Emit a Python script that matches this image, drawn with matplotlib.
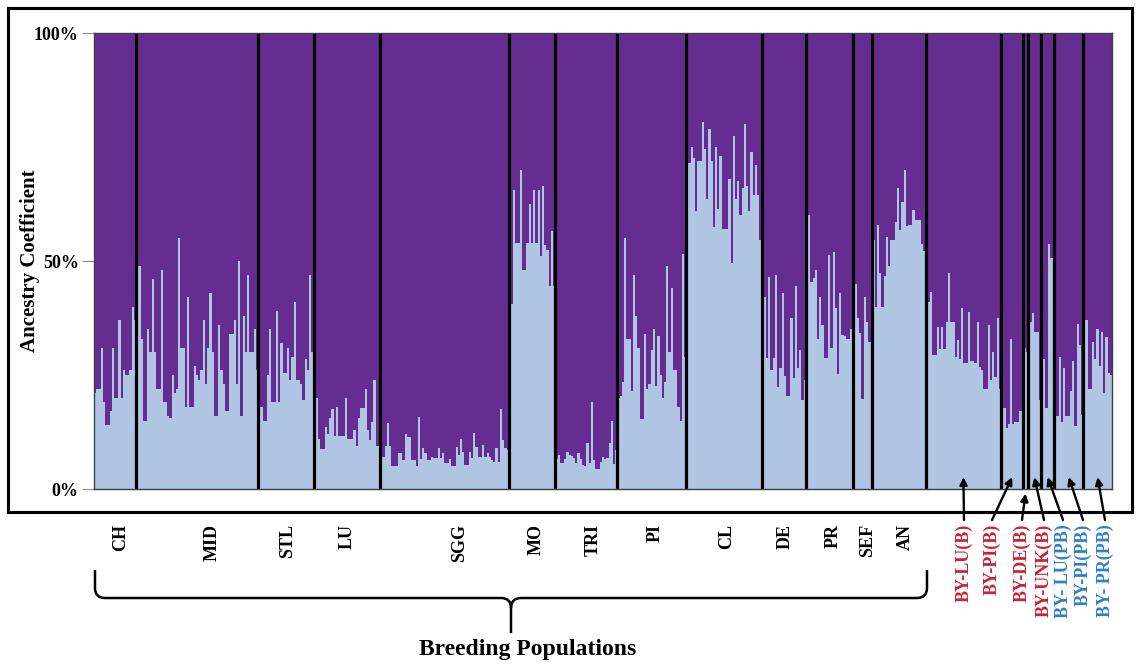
import matplotlib
matplotlib.use("Agg")
import matplotlib.pyplot as plt
from matplotlib.patches import Rectangle, PathPatch
from matplotlib.path import Path
import numpy as np

plt.rcParams['font.family'] = ['Liberation Serif', 'DejaVu Serif']
plt.rcParams['font.weight'] = 'bold'

W, H = 1136, 667
PURPLE = '#662d91'
LIGHT = '#b0c4e3'
RED = '#cc2233'
BLUE = '#2f80c8'

# light-cluster ancestry per individual, by population
ch = [0.21, 0.22, 0.22, 0.31, 0.19, 0.14, 0.14, 0.17, 0.31, 0.20, 0.20, 0.37, 0.20,
      0.26, 0.25, 0.25, 0.26, 0.40, 0.37]
mid = [0.33, 0.49, 0.33, 0.15, 0.15, 0.35, 0.30, 0.46, 0.30, 0.22, 0.22, 0.48, 0.19,
       0.19, 0.16, 0.155, 0.25, 0.21, 0.22, 0.55, 0.31, 0.31, 0.18, 0.42, 0.18, 0.18,
       0.27, 0.25, 0.24, 0.26, 0.37, 0.23, 0.31, 0.43, 0.30, 0.16, 0.16, 0.36, 0.26,
       0.23, 0.17, 0.17, 0.34, 0.34, 0.37, 0.23, 0.50, 0.16, 0.38, 0.30, 0.47, 0.30,
       0.30, 0.35, 0.26]
stl = [0.21, 0.18, 0.15, 0.15, 0.25, 0.35, 0.19, 0.19, 0.39, 0.19, 0.32, 0.255, 0.255,
       0.31, 0.24, 0.29, 0.41, 0.24, 0.24, 0.23, 0.195, 0.285, 0.26, 0.47, 0.30]
lu = [0.24, 0.20, 0.11, 0.087, 0.087, 0.135, 0.12, 0.155, 0.175, 0.116, 0.18, 0.116,
      0.116, 0.116, 0.20, 0.11, 0.11, 0.11, 0.13, 0.095, 0.155, 0.177, 0.177, 0.22,
      0.13, 0.107, 0.148, 0.24, 0.094, 0.094]
sgg = [0.07, 0.07, 0.094, 0.145, 0.094, 0.05, 0.05, 0.05, 0.08, 0.08, 0.064, 0.12,
       0.115, 0.115, 0.064, 0.064, 0.05, 0.157, 0.065, 0.09, 0.078, 0.064, 0.064, 0.07,
       0.067, 0.067, 0.089, 0.067, 0.08, 0.056, 0.056, 0.066, 0.05, 0.05, 0.092, 0.075,
       0.11, 0.082, 0.053, 0.053, 0.082, 0.067, 0.122, 0.093, 0.07, 0.07, 0.096, 0.07,
       0.078, 0.07, 0.064, 0.06, 0.089, 0.06, 0.175, 0.107, 0.089, 0.085]
mo = [0.45, 0.405, 0.655, 0.54, 0.54, 0.70, 0.48, 0.48, 0.54, 0.625, 0.54, 0.655, 0.54,
      0.655, 0.51, 0.665, 0.535, 0.525, 0.445, 0.565, 0.445]
tri = [0.065, 0.075, 0.056, 0.056, 0.065, 0.082, 0.075, 0.073, 0.068, 0.056, 0.078,
       0.065, 0.053, 0.05, 0.10, 0.056, 0.19, 0.064, 0.043, 0.043, 0.06, 0.07, 0.065,
       0.067, 0.10, 0.15, 0.055, 0.085]
pi = [0.20, 0.204, 0.235, 0.55, 0.33, 0.33, 0.215, 0.47, 0.38, 0.31, 0.153, 0.153, 0.34,
      0.22, 0.23, 0.305, 0.35, 0.226, 0.335, 0.25, 0.20, 0.235, 0.49, 0.30, 0.44, 0.26,
      0.26, 0.18, 0.15, 0.515, 0.29]
cl = [0.70, 0.715, 0.75, 0.725, 0.61, 0.72, 0.72, 0.805, 0.745, 0.635, 0.79, 0.72, 0.575,
      0.75, 0.615, 0.73, 0.57, 0.57, 0.57, 0.68, 0.495, 0.775, 0.635, 0.675, 0.60, 0.66,
      0.80, 0.665, 0.61, 0.74, 0.645, 0.71, 0.645, 0.545]
de = [0.257, 0.42, 0.287, 0.465, 0.26, 0.287, 0.47, 0.224, 0.265, 0.43, 0.248, 0.204,
      0.204, 0.374, 0.243, 0.445, 0.265, 0.305, 0.195, 0.24]
pr = [0.513, 0.60, 0.455, 0.462, 0.48, 0.328, 0.42, 0.36, 0.287, 0.287, 0.513, 0.31,
      0.52, 0.396, 0.252, 0.43, 0.338, 0.335, 0.33, 0.33, 0.35]
sef = [0.45, 0.45, 0.374, 0.343, 0.197, 0.42, 0.367, 0.323, 0.323]
an = [0.545, 0.40, 0.58, 0.473, 0.40, 0.467, 0.552, 0.49, 0.545, 0.545, 0.586, 0.66,
      0.568, 0.63, 0.70, 0.577, 0.58, 0.58, 0.612, 0.59, 0.59, 0.59, 0.537, 0.523]
by_lu_b = [0.41, 0.41, 0.433, 0.294, 0.294, 0.356, 0.308, 0.356, 0.308, 0.367, 0.473,
           0.367, 0.367, 0.29, 0.327, 0.286, 0.396, 0.276, 0.276, 0.389, 0.28, 0.28,
           0.276, 0.367, 0.268, 0.26, 0.219, 0.219, 0.36, 0.24, 0.30, 0.246, 0.376, 0.22]
by_pi_b = [0.211, 0.177, 0.133, 0.143, 0.33, 0.143, 0.148, 0.148, 0.172, 0.172]
by_de_b = [0.31, 0.30]
by_unk_b = [0.367, 0.367, 0.385, 0.345, 0.345, 0.195]
by_lu_pb = [0.286, 0.286, 0.177, 0.537, 0.506, 0.506]
by_pi_pb = [0.16, 0.16, 0.29, 0.148, 0.265, 0.16, 0.16, 0.216, 0.28, 0.138, 0.362,
            0.316, 0.162]
by_pr_pb = [0.223, 0.37, 0.22, 0.22, 0.323, 0.286, 0.35, 0.27, 0.345, 0.21, 0.334,
            0.254, 0.25]

breeding_names = ['CH', 'MID', 'STL', 'LU', 'SGG', 'MO', 'TRI', 'PI', 'CL', 'DE',
                  'PR', 'SEF', 'AN']
breeding_values = [ch, mid, stl, lu, sgg, mo, tri, pi, cl, de, pr, sef, an]
by_names = ['BY-LU(B)', 'BY-PI(B)', 'BY-DE(B)', 'BY-UNK(B)', 'BY- LU(PB)',
            'BY-PI(PB)', 'BY- PR(PB)']
by_values = [by_lu_b, by_pi_b, by_de_b, by_unk_b, by_lu_pb, by_pi_pb, by_pr_pb]
by_colors = [RED, RED, RED, RED, BLUE, BLUE, BLUE]

# label positions along the bottom, in pixels
breeding_label_x = [121, 212, 288, 347, 460, 536, 593, 655, 727, 785, 833, 868, 905]
by_label_x = [964, 992, 1022, 1044, 1063, 1083, 1105]

all_groups = breeding_values + by_values
sizes = [len(g) for g in all_groups]
bounds = np.concatenate([[0], np.cumsum(sizes)])
centers = (bounds[:-1] + bounds[1:]) / 2
q = np.concatenate(all_groups)

fig = plt.figure(figsize=(W / 100, H / 100), dpi=100)


def fx(px):
    return px / W


def fy(py):
    return 1 - py / H


ax = fig.add_axes([fx(94), fy(489), fx(1112) - fx(94), fy(33) - fy(489)])
ax.set_facecolor(PURPLE)
ax.stairs(q, np.arange(len(q) + 1), fill=True, color=LIGHT, baseline=0, lw=0)
for b in bounds[1:-1]:
    ax.axvline(b, color='black', lw=2.3)

ax.set_xlim(0, bounds[-1])
ax.set_ylim(0, 1)
ax.set_xticks([])
ax.set_yticks([0, 0.5, 1])
ax.set_yticklabels(['0%', '50%', '100%'], fontsize=13, fontweight='bold')
ax.tick_params(axis='y', length=9, width=0.8, color='#909090', pad=2)
for s in ax.spines.values():
    s.set_color('#404040')
    s.set_linewidth(1.0)

fig.text(fx(30), fy(261), 'Ancestry Coefficient', rotation=90, ha='center',
         va='center', fontsize=15, fontweight='bold')

# outer frame
fig.patches.append(Rectangle((fx(8), fy(512)), fx(1132) - fx(8), fy(8) - fy(512),
                             transform=fig.transFigure, fill=False,
                             edgecolor='black', lw=2.2))

# population labels under the frame
for name, lx in zip(breeding_names, breeding_label_x):
    fig.text(fx(lx), fy(524), name, rotation=90, ha='center', va='top',
             fontsize=13, fontweight='bold')

nb = len(breeding_names)
for i, (name, col, lx) in enumerate(zip(by_names, by_colors, by_label_x)):
    fig.text(fx(lx), fy(524), name, rotation=90, ha='center', va='top',
             fontsize=13, fontweight='bold', color=col)
    tip_y = -0.01 if name == 'BY-DE(B)' else 0.026
    ax.annotate('', xy=(centers[nb + i], tip_y), xycoords='data',
                xytext=(fx(lx), fy(520)), textcoords='figure fraction',
                arrowprops=dict(arrowstyle='-|>', color='black', lw=1.7,
                                mutation_scale=11, shrinkA=0, shrinkB=0),
                annotation_clip=False)

# curly brace grouping the breeding populations
x0, x1, xm = 95, 927, 511
yt, yh, yb = 570, 598, 633
verts = [(x0, yt), (x0, yh - 10), (x0, yh), (x0 + 10, yh), (xm - 10, yh),
         (xm, yh), (xm, yh + 10), (xm, yb),
         (xm, yh + 10), (xm, yh), (xm + 10, yh), (x1 - 10, yh), (x1, yh),
         (x1, yh - 10), (x1, yt)]
codes = [Path.MOVETO, Path.LINETO, Path.CURVE3, Path.CURVE3, Path.LINETO,
         Path.CURVE3, Path.CURVE3, Path.LINETO,
         Path.MOVETO, Path.CURVE3, Path.CURVE3, Path.LINETO, Path.CURVE3,
         Path.CURVE3, Path.LINETO]
brace = Path([(fx(x), fy(y)) for x, y in verts], codes)
fig.patches.append(PathPatch(brace, transform=fig.transFigure, fill=False,
                             edgecolor='black', lw=1.8))

fig.text(fx(528), fy(650), 'Breeding Populations', ha='center', va='center',
         fontsize=17, fontweight='bold')

fig.savefig('out.png', dpi=100)
